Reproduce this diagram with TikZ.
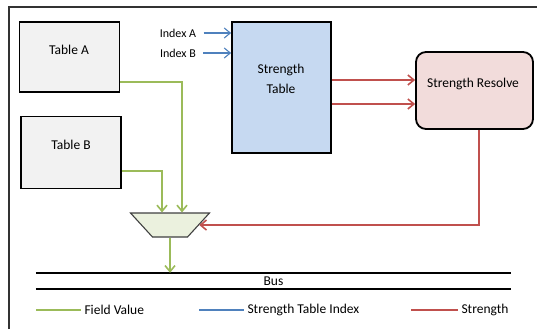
\documentclass[tikz,border=0pt]{standalone}
\usepackage{fontspec}
\setmainfont{Carlito}
\usepackage{xcolor}
\usepackage{tikz}
\usetikzlibrary{shapes.geometric,positioning,calc,arrows.meta}

\definecolor{fieldgreen}{HTML}{9BBB59}
\definecolor{indexblue}{HTML}{4F81BD}
\definecolor{strengthred}{HTML}{C0504D}
\definecolor{tablegray}{HTML}{F2F2F2}
\definecolor{tableblue}{HTML}{C6D9F1}
\definecolor{resolvepink}{HTML}{F2DCDB}
\definecolor{muxgreen}{HTML}{EBF1DE}

\tikzset{
    >={Straight Barb[length=6pt,width=10pt]},
    tablebox/.style={draw, line width=1.8pt, rectangle, inner sep=0pt},
    fieldarrow/.style={->, draw=fieldgreen, line width=1.6pt},
    indexarrow/.style={->, draw=indexblue, line width=1.1pt},
    strengtharrow/.style={->, draw=strengthred, line width=1.6pt},
    legendline/.style={line width=1.6pt},
    busline/.style={line width=1.8pt}
}

\begin{document}
\begin{tikzpicture}[x=1pt, y=-1pt, font=\fontsize{13.5}{20}\selectfont]
    \useasboundingbox (0,0) rectangle (537,329);
    % outer frame (cut at right and bottom)
    \draw[line width=1.2pt, black!80] (9,329) -- (9,7) -- (537,7);

    % Table A box
    \node[tablebox, minimum width=100pt, minimum height=70pt, fill=tablegray] (tabA) at (69.5,57) {};
    \node at (69,50) {Table A};

    % Table B box
    \node[tablebox, minimum width=100pt, minimum height=72pt, fill=tablegray] (tabB) at (71,152.5) {};
    \node at (71,145) {Table B};

    % Strength table
    \node[tablebox, minimum width=99pt, minimum height=131pt, fill=tableblue] (st) at (281.5,87.5) {};
    \node[align=center] at (281,79) {Strength\\Table};

    % Strength resolve
    \node[tablebox, rounded corners=10pt, minimum width=117pt, minimum height=77pt, fill=resolvepink] (resolve) at (474.5,90.5) {};
    \node at (473,84) {Strength Resolve};

    % Index inputs
    \node[font=\fontsize{12}{14}\selectfont] (idxA) at (178,33) {Index A};
    \node[font=\fontsize{12}{14}\selectfont] (idxB) at (178,53) {Index B};
    \draw[indexarrow] ([xshift=4pt]idxA.east) -- (idxA -| st.west);
    \draw[indexarrow] ([xshift=4pt]idxB.east) -- (idxB -| st.west);

    % Mux
    \node[draw, black!75, line width=1.1pt, fill=muxgreen, trapezium, trapezium angle=47.5, shape border rotate=180,
          text width=35pt, text height=24pt, text depth=0pt, inner sep=0pt] (mux) at (170,225) {};

    % Bus
    \node[minimum width=475pt, minimum height=16pt, inner sep=0pt] (bus) at (273.5,281) {Bus};
    \draw[busline] (bus.north west) -- (bus.north east);
    \draw[busline] (bus.south west) -- (bus.south east);

    % Arrows
    \draw[strengtharrow] ([yshift=7.5pt]st.east) -- ([yshift=7.5pt]st.east -| resolve.west);
    \draw[strengtharrow] ([yshift=-16.5pt]st.east) -- ([yshift=-16.5pt]st.east -| resolve.west);
    \draw[strengtharrow] ([xshift=4.5pt]resolve.south) |- (mux.east);
    \draw[fieldarrow] ([yshift=11pt]tabA.south east) -| ([xshift=12pt]mux.north);
    \draw[fieldarrow] ([yshift=18.5pt]tabB.south east) -| ([xshift=-8pt]mux.north);
    \draw[fieldarrow] (mux.south) -- (mux.south |- bus.north);

    % Legend
    \coordinate (lgfield) at (36,310);
    \coordinate (lgindex) at (199,310);
    \coordinate (lgstrength) at (411,310);
    \node[anchor=west] (lgfieldtxt) at (81,310) {Field Value};
    \node[anchor=west] (lgindextxt) at (244,310) {Strength Table Index};
    \node[anchor=west] (lgstrengthtxt) at (458,310) {Strength};
    \draw[legendline, fieldgreen] (lgfield) -- (lgfieldtxt.west);
    \draw[legendline, indexblue] (lgindex) -- (lgindextxt.west);
    \draw[legendline, strengthred] (lgstrength) -- (lgstrengthtxt.west);
\end{tikzpicture}
\end{document}
